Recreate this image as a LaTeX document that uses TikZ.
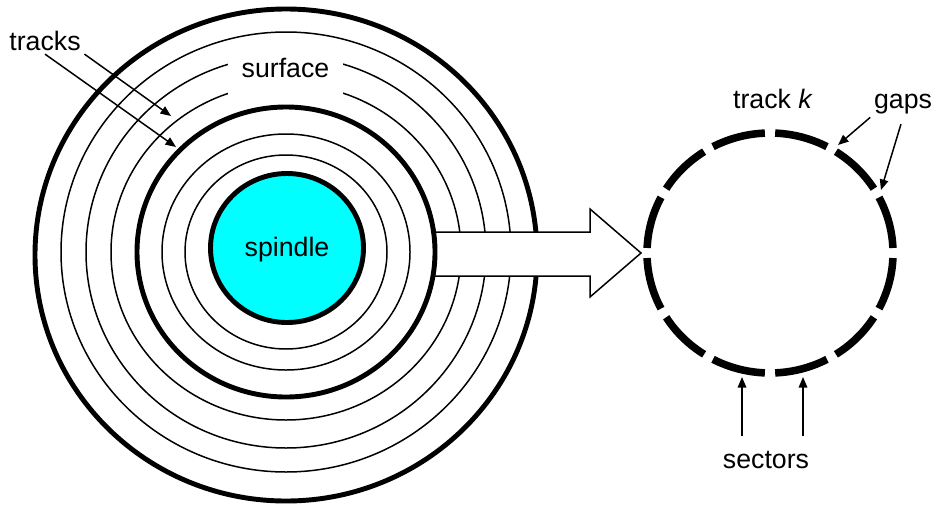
\documentclass[tikz,border=0pt]{standalone}
\usepackage{fontspec}
\setmainfont{Liberation Sans}
\usepackage{tikz}
\usetikzlibrary{arrows.meta}
\definecolor{spindlecyan}{RGB}{0,255,255}
\tikzset{
  ptrarr/.style    = {-{Triangle[length=2.1mm,width=1.7mm]},line width=0.85pt},
  trackline/.style = {line width=0.85pt},
  rimline/.style   = {line width=2.8pt},
  sectorarc/.style = {line width=4.3pt},
  bigarrow/.style  = {fill=white,line width=0.85pt,line join=miter},
  lbl/.style       = {font=\fontsize{15.2}{18}\selectfont,inner sep=2pt}
}

\begin{document}
\begin{tikzpicture}[x=0.02cm,y=-0.02cm]
  \useasboundingbox (0,0) rectangle (942,507);
  \coordinate (hub) at (286,252);
  \coordinate (trk) at (770,253);
  % disk and outer tracks
  \draw[rimline] (286,255) ellipse [x radius=251, y radius=246];
  \foreach \rx/\ry in {175/168,200/196,225/220}
    \draw[trackline] (hub) ellipse [x radius=\rx, y radius=\ry];
  \fill[white] (228,45) rectangle (343,97);
  % big arrow to the track
  \filldraw[bigarrow] (433,232) -- (590,232) -- (590,209) -- (641,253)
    -- (590,297) -- (590,276) -- (433,276);
  % inner tracks and spindle
  \draw[rimline] (hub) ellipse [x radius=149, y radius=145];
  \foreach \rx/\ry in {101/97,124/118}
    \draw[trackline] (hub) ellipse [x radius=\rx, y radius=\ry];
  \draw[rimline,fill=spindlecyan] (287,248) ellipse [x radius=76.5, y radius=74.5];
  % track k with its sectors
  \foreach \a in {0,30,...,330}
    \draw[sectorarc] (trk) ++(\a+2.4:123 and 120)
      arc[start angle=\a+2.4, end angle=\a+27.6, x radius=123, y radius=120];

  \node[lbl,anchor=base] (spindle) at (287,256) {spindle};
  \node[lbl,anchor=base] (surface) at (285.5,77) {surface};
  \node[lbl,anchor=base] (tracks) at (45,50) {tracks};
  \node[lbl,anchor=base] (trackk) at (773,108) {track \textit{k}};
  \node[lbl,anchor=base] (gaps) at (903,108) {gaps};
  \node[lbl,anchor=base] (sectors) at (766,468) {sectors};

  \coordinate (trkA) at (171,116);
  \coordinate (trkB) at (176,147);
  \coordinate (gapA) at (838,145);
  \coordinate (gapB) at (881,190);
  \coordinate (secA) at (742,377);
  \coordinate (secB) at (803,377);
  \draw[ptrarr] (tracks.south east) -- (trkA);
  \draw[ptrarr] (tracks.south) -- (trkB);
  \draw[ptrarr] (gaps.south west) -- (gapA);
  \draw[ptrarr,shorten <=4pt] (gaps.south) -- (gapB);
  \draw[ptrarr,shorten <=6pt] (secA |- sectors.north) -- (secA);
  \draw[ptrarr,shorten <=6pt] (secB |- sectors.north) -- (secB);
\end{tikzpicture}
\end{document}
